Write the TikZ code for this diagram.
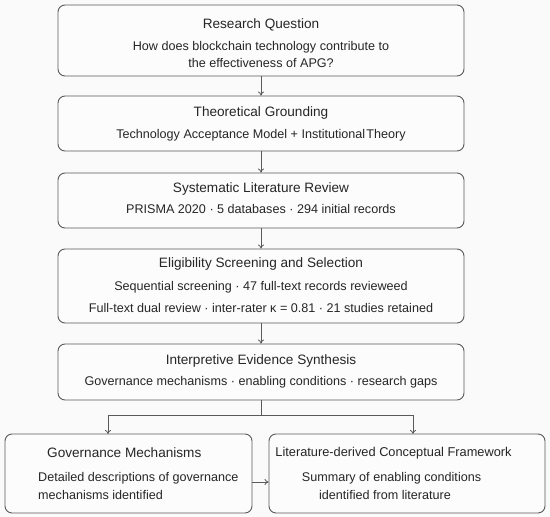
\documentclass[tikz,border=0pt]{standalone}
\usepackage{fontspec}
\setmainfont{Liberation Sans}
\usetikzlibrary{arrows.meta}
\definecolor{ink}{HTML}{262626}
\definecolor{edge}{HTML}{5A5A5A}
\definecolor{paper}{HTML}{FAFAFA}
\definecolor{boxfill}{HTML}{FCFCFC}
\tikzset{
  stagebox/.style={draw=edge, fill=boxfill, line width=0.9pt, rounded corners=7pt, inner sep=0pt},
  ttl/.style={text=ink, font=\fontsize{13.6}{15}\selectfont, inner sep=0pt},
  sub/.style={text=ink, font=\fontsize{12.6}{14}\selectfont, inner sep=0pt},
  flow/.style={draw=edge, line width=0.8pt, -{To[length=4pt,width=6pt]}}
}
\begin{document}
\begin{tikzpicture}[x=1pt,y=-1pt]
\fill[paper] (0,0) rectangle (550,517);
\useasboundingbox (0,0) rectangle (550,517);
% boxes
\node[stagebox, minimum width=406pt, minimum height=71pt] (b1) at (261,40.5) {};
\node[stagebox, minimum width=406pt, minimum height=55pt] (b2) at (261,123.5) {};
\node[stagebox, minimum width=406pt, minimum height=55pt] (b3) at (261,200.5) {};
\node[stagebox, minimum width=406pt, minimum height=74pt] (b4) at (261,286) {};
\node[stagebox, minimum width=406pt, minimum height=56pt] (b5) at (261,372) {};
\node[stagebox, minimum width=247pt, minimum height=79pt] (b6) at (128.5,473.5) {};
\node[stagebox, minimum width=276pt, minimum height=79pt] (b7) at (407,473.5) {};
% texts
\node[ttl] (t1) at (261,25) {Research Question};
\node[sub] (s1a) at (261,47) {How does blockchain technology contribute to};
\node[sub] (s1b) at (261,63) {the effectiveness of APG?};
\node[ttl] (t2) at (261,113) {Theoretical Grounding};
\node[sub] (s2) at (261,135) {Technology Acceptance Model + Institutional\hspace{1.2pt}Theory};
\node[ttl] (t3) at (261,188.5) {Systematic Literature Review};
\node[sub] (s3) at (261,209) {PRISMA 2020 · 5 databases · 294 initial records};
\node[ttl] (t4) at (261,264) {Eligibility Screening and Selection};
\node[sub] (s4a) at (261,287) {Sequential screening · 47 full-text records revieweed};
\node[sub] (s4b) at (261,308) {Full-text dual review · inter-rater κ = 0.81 · 21 studies retained};
\node[ttl] (t5) at (261,361) {Interpretive Evidence Synthesis};
\node[sub] (s5) at (261,382) {Governance mechanisms · enabling conditions · research gaps};
\node[ttl, anchor=west] (t6) at (47,453) {Governance Mechanisms};
\node[sub, anchor=west] (s6a) at (38,478) {Detailed descriptions of governance};
\node[sub, anchor=west] (s6b) at (38,495) {mechanisms identified};
\node[ttl, font=\fontsize{12.8}{14}\selectfont] (t7) at (393.5,453) {Literature-derived Conceptual Framework};
\node[sub] (s7a) at (391.5,478) {Summary of enabling conditions};
\node[sub] (s7b) at (385,495) {identified from literature};
% connectors
\draw[flow] (b1.south) -- (b2.north);
\draw[flow] (b2.south) -- (b3.north);
\draw[flow] (b3.south) -- (b4.north);
\draw[flow] (b4.south) -- (b5.north);
\coordinate (split) at (261,415);
\draw[edge, line width=0.8pt] (b5.south) -- (split);
\draw[flow] (split) -| (108,434);
\draw[flow] (split) -| (413,434);
\draw[flow] (b6.east |- 0,482) -- (b7.west |- 0,482);
\end{tikzpicture}
\end{document}
